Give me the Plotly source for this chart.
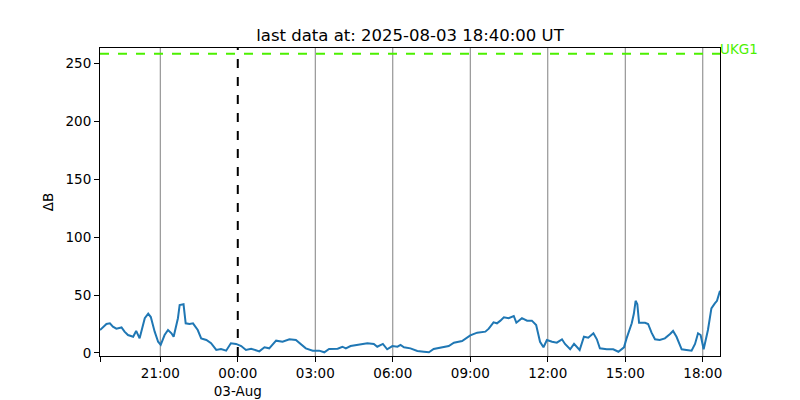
import pandas as pd
import plotly.graph_objects as go

title_text = "last data at: 2025-08-03 18:40:00 UT"
station = "UKG1"
threshold = 258

times = [
    "2025-08-02 18:40", "2025-08-02 18:55", "2025-08-02 19:03", "2025-08-02 19:10", "2025-08-02 19:18",
    "2025-08-02 19:30", "2025-08-02 19:37", "2025-08-02 19:45", "2025-08-02 19:57", "2025-08-02 20:04",
    "2025-08-02 20:12", "2025-08-02 20:24", "2025-08-02 20:32", "2025-08-02 20:38", "2025-08-02 20:47",
    "2025-08-02 20:55", "2025-08-02 21:01", "2025-08-02 21:10", "2025-08-02 21:18", "2025-08-02 21:26",
    "2025-08-02 21:31", "2025-08-02 21:41", "2025-08-02 21:45", "2025-08-02 21:54", "2025-08-02 21:59",
    "2025-08-02 22:08", "2025-08-02 22:16", "2025-08-02 22:27", "2025-08-02 22:35", "2025-08-02 22:47",
    "2025-08-02 22:58", "2025-08-02 23:10", "2025-08-02 23:21", "2025-08-02 23:33", "2025-08-02 23:44",
    "2025-08-02 23:56", "2025-08-03 00:08", "2025-08-03 00:19", "2025-08-03 00:31", "2025-08-03 00:50",
    "2025-08-03 01:02", "2025-08-03 01:13", "2025-08-03 01:29", "2025-08-03 01:44", "2025-08-03 02:00",
    "2025-08-03 02:15", "2025-08-03 02:38", "2025-08-03 02:54", "2025-08-03 03:09", "2025-08-03 03:21",
    "2025-08-03 03:32", "2025-08-03 03:52", "2025-08-03 04:03", "2025-08-03 04:11", "2025-08-03 04:22",
    "2025-08-03 04:42", "2025-08-03 05:01", "2025-08-03 05:16", "2025-08-03 05:24", "2025-08-03 05:37",
    "2025-08-03 05:47", "2025-08-03 05:59", "2025-08-03 06:11", "2025-08-03 06:18", "2025-08-03 06:26",
    "2025-08-03 06:41", "2025-08-03 06:57", "2025-08-03 07:12", "2025-08-03 07:24", "2025-08-03 07:35",
    "2025-08-03 07:55", "2025-08-03 08:10", "2025-08-03 08:22", "2025-08-03 08:41", "2025-08-03 09:00",
    "2025-08-03 09:16", "2025-08-03 09:35", "2025-08-03 09:43", "2025-08-03 09:54", "2025-08-03 10:02",
    "2025-08-03 10:10", "2025-08-03 10:18", "2025-08-03 10:29", "2025-08-03 10:41", "2025-08-03 10:47",
    "2025-08-03 11:00", "2025-08-03 11:12", "2025-08-03 11:23", "2025-08-03 11:33", "2025-08-03 11:42",
    "2025-08-03 11:50", "2025-08-03 11:58", "2025-08-03 12:10", "2025-08-03 12:21", "2025-08-03 12:33",
    "2025-08-03 12:40", "2025-08-03 12:52", "2025-08-03 13:01", "2025-08-03 13:14", "2025-08-03 13:24",
    "2025-08-03 13:34", "2025-08-03 13:46", "2025-08-03 13:54", "2025-08-03 14:01", "2025-08-03 14:17",
    "2025-08-03 14:32", "2025-08-03 14:44", "2025-08-03 14:57", "2025-08-03 15:03", "2025-08-03 15:15",
    "2025-08-03 15:20", "2025-08-03 15:24", "2025-08-03 15:28", "2025-08-03 15:32", "2025-08-03 15:46",
    "2025-08-03 15:53", "2025-08-03 16:01", "2025-08-03 16:09", "2025-08-03 16:20", "2025-08-03 16:32",
    "2025-08-03 16:44", "2025-08-03 16:51", "2025-08-03 16:59", "2025-08-03 17:11", "2025-08-03 17:22",
    "2025-08-03 17:34", "2025-08-03 17:42", "2025-08-03 17:49", "2025-08-03 17:55", "2025-08-03 18:02",
    "2025-08-03 18:12", "2025-08-03 18:20", "2025-08-03 18:28", "2025-08-03 18:33", "2025-08-03 18:40",
]
delta_b = [
    19.8, 25.0, 25.6, 22.7, 21.0,
    22.0, 18.4, 15.5, 14.0, 19.0,
    12.6, 30.0, 34.0, 31.0, 18.4,
    9.7, 7.0, 15.5, 19.8, 17.0,
    14.0, 30.0, 41.4, 42.0, 25.6,
    25.0, 25.6, 19.8, 12.6, 11.2,
    8.4, 2.6, 3.4, 2.0, 8.4,
    7.8, 6.0, 2.6, 3.7, 1.4,
    4.9, 4.0, 10.6, 9.7, 11.8,
    11.2, 4.0, 2.0, 2.0, 0.6,
    3.4, 3.7, 5.4, 4.0, 6.0,
    7.2, 8.4, 7.8, 5.4, 7.8,
    3.2, 6.0, 5.4, 6.9, 4.9,
    4.0, 1.7, 1.1, 0.6, 3.4,
    4.6, 6.0, 8.9, 10.3, 15.2,
    17.5, 18.4, 21.0, 26.4, 25.6,
    27.9, 30.7, 30.0, 31.9, 26.1,
    30.0, 27.9, 27.9, 24.1, 9.7,
    4.9, 11.2, 9.7, 8.9, 11.8,
    7.8, 3.2, 7.8, 2.6, 14.0,
    13.2, 17.0, 11.8, 4.0, 3.2,
    3.2, 1.1, 4.9, 12.6, 25.6,
    34.0, 45.0, 42.0, 26.1, 26.1,
    25.0, 17.5, 11.8, 11.2, 12.6,
    16.4, 19.0, 14.0, 3.2, 2.6,
    2.0, 7.8, 17.0, 15.5, 3.2,
    19.8, 38.5, 42.8, 45.0, 53.7,
]

x_range = ["2025-08-02 18:40", "2025-08-03 18:40"]
y_range = [-2.6, 263]
tick_times = ["2025-08-02 21:00", "2025-08-03 00:00", "2025-08-03 03:00", "2025-08-03 06:00",
              "2025-08-03 09:00", "2025-08-03 12:00", "2025-08-03 15:00", "2025-08-03 18:00"]
tick_labels = ["21:00", "00:00<br>03-Aug", "03:00", "06:00", "09:00", "12:00", "15:00", "18:00"]
day_boundary = "2025-08-03 00:00"
y_ticks = [0, 50, 100, 150, 200, 250]

t = pd.to_datetime(times)

fig = go.Figure()
fig.add_trace(go.Scatter(x=t, y=delta_b, mode="lines",
                         line=dict(color="#1f77b4", width=2), showlegend=False))

shapes = []
for tt in tick_times:
    if tt == day_boundary:
        continue
    shapes.append(dict(type="line", xref="x", yref="paper", x0=tt, x1=tt, y0=0, y1=1,
                       line=dict(color="#808080", width=1), layer="below"))
shapes.append(dict(type="line", xref="x", yref="paper", x0=day_boundary, x1=day_boundary,
                   y0=0, y1=1, line=dict(color="black", width=2, dash="dash")))
shapes.append(dict(type="line", xref="paper", yref="y", x0=0, x1=1, y0=threshold, y1=threshold,
                   line=dict(color="#4cf000", width=2, dash="dash")))

fig.update_layout(
    width=800, height=400,
    margin=dict(l=100, r=80, t=48, b=44, autoexpand=False),
    paper_bgcolor="white", plot_bgcolor="white",
    font=dict(family="DejaVu Sans", size=13, color="black"),
    title=dict(text=title_text, x=0.5125, xanchor="center", y=0.912, yanchor="middle",
               font=dict(size=16.5, color="black")),
    shapes=shapes,
    annotations=[dict(text=station, xref="paper", yref="y", x=1, y=threshold, xanchor="left",
                      yanchor="middle", yshift=5, xshift=-2, showarrow=False,
                      font=dict(color="#4cf000", size=13.5))],
    xaxis=dict(range=x_range, tickvals=[x_range[0]] + tick_times, ticktext=[""] + tick_labels,
               showgrid=False, zeroline=False, showline=True, mirror=True, linecolor="black",
               linewidth=1, ticks="outside", ticklen=5, tickcolor="black", automargin=False,
               tickfont=dict(size=13.5)),
    yaxis=dict(range=y_range, tickvals=y_ticks, showgrid=False, zeroline=False, showline=True,
               mirror=True, linecolor="black", linewidth=1, ticks="outside", ticklen=5,
               tickcolor="black", automargin=False, tickfont=dict(size=13.5),
               title=dict(text="ΔB", standoff=8, font=dict(size=13.5))),
)

fig.write_html("out.html", config={"displayModeBar": False},
               post_script="document.body.style.margin='0';document.body.style.overflow='hidden';")
